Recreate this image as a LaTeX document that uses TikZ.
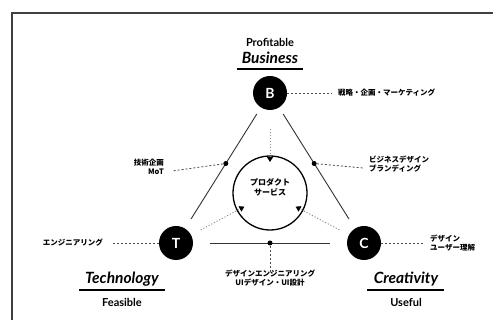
\documentclass[tikz,border=0pt]{standalone}
\usepackage{fontspec}
\setmainfont{Noto Sans CJK JP}
\newfontfamily\lat{Lato}
\usetikzlibrary{calc,arrows.meta}
\tikzset{
  vtx/.style={circle,fill=black,minimum size=34pt,inner sep=0pt,text=white,font=\lat\bfseries\fontsize{14}{14}\selectfont},
  dotn/.style={circle,fill=black,minimum size=5pt,inner sep=0pt},
  edge/.style={draw=black!80,line width=0.9pt},
  lead/.style={draw=black!70,line width=0.8pt,dash pattern=on 2pt off 2pt},
  flow/.style={draw=black!45,line width=1pt,dotted,-{Triangle[length=5pt,width=6pt,black]}},
  jp/.style={font=\bfseries\fontsize{7.5}{9}\selectfont,inner sep=0pt},
  big/.style={font=\lat\bfseries\itshape\fontsize{15.5}{15.5}\selectfont,inner sep=0pt},
  small/.style={font=\lat\bfseries\fontsize{11}{11}\selectfont,inner sep=0pt},
  uline/.style={draw=black,line width=2pt}
}
\begin{document}
\begin{tikzpicture}[x=1pt,y=-1pt]
\useasboundingbox (0,0) rectangle (493,320);
\fill[white] (0,0) rectangle (493,320);
\draw[black!75,line width=1.3pt] (12,321) -- (12,13) -- (494,13);
% vertices
\node[vtx] (B) at (270,93) {B};
\node[vtx] (T) at (176,243) {T};
\node[vtx] (C) at (364,243) {C};
\coordinate (M) at (270,193);
\node[circle,draw=black,line width=1.3pt,minimum size=74pt,inner sep=0pt,font=\bfseries\fontsize{8}{10}\selectfont,align=center] (P) at (M) {プロダクト\\サービス\\[2pt]};
% triangle edges
\coordinate (e1a) at ($(B)!0.14!(T)$); \coordinate (e1b) at ($(B)!0.84!(T)$);
\coordinate (e2a) at ($(B)!0.14!(C)$); \coordinate (e2b) at ($(B)!0.84!(C)$);
\coordinate (e3a) at ($(T)!0.18!(C)$); \coordinate (e3b) at ($(T)!0.82!(C)$);
\draw[edge] (e1a) -- (e1b);
\draw[edge] (e2a) -- (e2b);
\draw[edge] (e3a) -- (e3b);
\node[dotn] (dL) at ($(B)!0.47!(T)$) {};
\node[dotn] (dR) at ($(B)!0.47!(C)$) {};
\node[dotn] (dB) at ($(T)!0.5!(C)$) {};
% flows to center
\coordinate (f1) at ($(B)!36pt!(M)$); \coordinate (g1) at ($(M)!31pt!(B)$);
\coordinate (f2) at ($(T)!28pt!(M)$); \coordinate (g2) at ($(M)!29pt!(T)$);
\coordinate (f3) at ($(C)!28pt!(M)$); \coordinate (g3) at ($(M)!29pt!(C)$);
\draw[flow] (f1) -- (g1);
\draw[flow] (f2) -- (g2);
\draw[flow] (f3) -- (g3);
% labels
\node[jp,anchor=west] (lB) at (338,93) {戦略・企画・マーケティング};
\draw[lead] (B.east) -- ($(lB.west)+(-6pt,0)$);
\node[jp,anchor=east,align=right] (lL) at (164,167) {技術企画\\MoT};
\draw[lead] (dL) -- ($(lL.east)+(8pt,-4pt)$);
\node[jp,anchor=west,align=left] (lR) at (369,164) {ビジネスデザイン\\ブランディング};
\draw[lead] (dR) -- ($(lR.west)+(-6pt,-4pt)$);
\node[jp,anchor=east] (lT) at (103,243) {エンジニアリング};
\draw[lead] (T.west) -- ($(lT.east)+(9pt,0)$);
\node[jp,anchor=west,align=left] (lC) at (430,243) {デザイン\\ユーザー理解};
\draw[lead] (C.east) -- ($(lC.west)+(-6pt,0)$);
\node[jp,align=center] (lD) at (270,278) {デザインエンジニアリング\\UIデザイン・UI設計};
\draw[lead] (dB) -- ($(lD.north)+(0,-4pt)$);
% pillar titles
\node[small] (pB) at (270,42) {Profitable};
\node[big] (nB) at (270,58) {Business};
\draw[uline] (237,69) -- (303,69);
\node[big] (nT) at (122,279) {Technology};
\draw[uline] (79,290) -- (165,290);
\node[small] (pT) at (122,302) {Feasible};
\node[big] (nC) at (406,279) {Creativity};
\draw[uline] (367,290) -- (444,290);
\node[small] (pC) at (406,302) {Useful};
\end{tikzpicture}
\end{document}
